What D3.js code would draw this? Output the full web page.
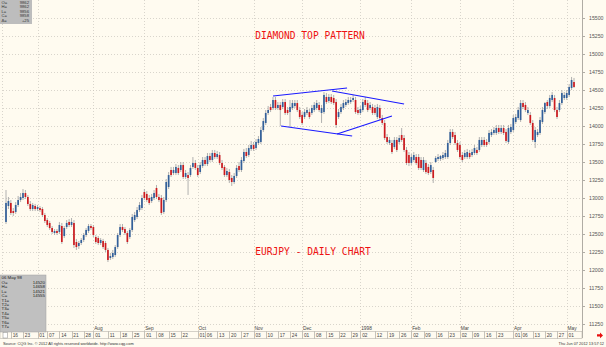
<!DOCTYPE html>
<html><head><meta charset="utf-8">
<script src="https://cdn.jsdelivr.net/npm/d3@7"></script>
<style>body{margin:0;background:#fffbf0}svg{display:block}</style>
</head><body><svg id="c" width="606" height="347"></svg>
<script>
// ---- DATA (EURJPY daily, Jun 12 1997 - May 06 1998) ----
const openP=[12667,12889,12931,12819,12806,12903,12972,13000,13069,13014,12917,12847,12889,12847,12861,12847,12764,12694,12653,12583,
12514,12542,12528,12611,12472,12597,12667,12625,12653,12389,12333,12375,12417,12486,12542,12611,12597,12458,12444,12375,
12403,12375,12278,12167,12181,12208,12319,12486,12597,12569,12514,12458,12556,12694,12736,12833,12861,13083,13056,13000,
12958,13000,13139,13014,13000,12806,12972,13153,13389,13347,13347,13417,13389,13458,13292,13319,13319,13431,13486,13417,
13361,13444,13528,13472,13583,13528,13625,13569,13597,13486,13431,13319,13361,13278,13222,13306,13444,13389,13514,13639,
13597,13681,13736,13694,13764,13778,13944,14042,14181,14264,14250,14361,14250,14292,14264,14333,14222,14194,14250,14278,
14319,14222,14153,14125,14181,14194,14181,14222,14250,14292,14181,14194,14403,14347,14403,14389,14333,14125,14194,14250,
14292,14319,14333,14361,14361,14222,14181,14222,14361,14319,14250,14264,14250,14125,14250,14111,14042,13847,13764,13764,
13708,13806,13778,13875,13833,13667,13597,13486,13528,13569,13569,13528,13389,13486,13431,13361,13389,13500,13542,13542,
13556,13569,13569,13764,13917,13875,13764,13736,13597,13569,13569,13625,13597,13625,13667,13667,13736,13806,13778,13778,
13875,13903,13903,13972,13917,13972,13917,13778,13917,13944,14056,14111,14083,14319,14292,14181,14153,14042,13778,13875,
13903,14056,14194,14333,14278,14361,14389,14222,14222,14319,14389,14389,14431,14528,14611];
const highP=[13111,13014,12972,12861,12944,13028,13069,13125,13111,13042,12958,12931,12917,12903,12889,12875,12792,12722,12681,12611,
12569,12569,12667,12653,12611,12694,12708,12722,12694,12431,12403,12444,12514,12583,12639,12639,12625,12486,12472,12444,
12431,12403,12306,12236,12278,12347,12514,12639,12639,12597,12542,12583,12778,12806,12875,12944,13042,13125,13097,13042,
13056,13111,13181,13056,13042,13014,13264,13361,13431,13431,13472,13458,13500,13500,13389,13361,13458,13569,13528,13458,
13500,13569,13569,13625,13625,13667,13667,13653,13639,13528,13458,13417,13403,13319,13347,13458,13500,13569,13681,13694,
13736,13792,13778,13819,13861,13986,14111,14222,14278,14306,14403,14403,14333,14333,14375,14375,14264,14361,14361,14361,
14361,14264,14194,14236,14264,14236,14292,14333,14361,14333,14292,14472,14458,14444,14444,14431,14375,14236,14306,14361,
14375,14403,14403,14431,14403,14264,14278,14375,14403,14361,14333,14306,14292,14306,14292,14153,14083,13889,13847,13806,
13847,13847,13875,13972,13875,13708,13639,13611,13639,13611,13611,13569,13569,13528,13472,13500,13431,13583,13611,13597,
13639,13667,13806,13958,13958,13917,13806,13778,13639,13667,13681,13667,13681,13736,13708,13847,13847,13847,13819,13944,
13958,13986,14014,14014,14014,14014,13958,14014,14028,14153,14167,14264,14361,14361,14333,14264,14194,14083,13986,13958,
14125,14264,14333,14361,14431,14472,14431,14264,14361,14500,14472,14500,14583,14681,14667];
const lowP=[12639,12847,12764,12750,12778,12875,12944,12972,12986,12889,12819,12819,12819,12819,12806,12736,12653,12597,12556,12500,
12486,12486,12500,12361,12444,12569,12597,12597,12306,12278,12292,12347,12389,12458,12514,12556,12458,12361,12347,12347,
12292,12250,12111,12139,12153,12181,12292,12458,12528,12486,12361,12431,12528,12667,12708,12806,12833,12972,12944,12903,
12931,12972,12986,12944,12764,12778,12944,13125,13292,13319,13319,13319,13361,13264,13264,13042,13292,13403,13389,13292,
13333,13417,13444,13444,13500,13500,13542,13542,13458,13389,13292,13292,13208,13167,13194,13278,13361,13361,13486,13556,
13569,13653,13653,13667,13736,13750,13917,14014,14153,14194,14222,14222,14222,14000,14236,14153,14153,13986,14222,14250,
14194,14097,14014,14097,14153,14097,14153,14194,14222,14194,14042,14167,14306,14319,14306,14292,13972,14097,14167,14222,
14264,14292,14306,14333,14167,14153,14153,14194,14264,14194,14222,14153,14153,14097,14083,14014,13806,13750,13736,13611,
13681,13639,13750,13778,13639,13458,13444,13458,13500,13458,13389,13389,13361,13333,13319,13333,13208,13486,13514,13514,
13528,13542,13542,13736,13819,13736,13639,13542,13500,13542,13542,13542,13569,13597,13597,13639,13708,13708,13708,13750,
13847,13875,13875,13889,13889,13875,13764,13750,13889,13917,14028,14083,14056,14236,14194,14153,14014,13778,13694,13847,
13875,14028,14167,14236,14250,14333,14194,14097,14194,14292,14361,14361,14403,14500,14528];
const closeP=[12931,12958,12792,12792,12903,12972,13014,13069,13014,12917,12847,12903,12847,12875,12833,12764,12681,12625,12583,12528,
12542,12514,12625,12389,12583,12653,12625,12667,12347,12319,12375,12417,12486,12556,12611,12583,12486,12389,12375,12417,
12319,12278,12139,12194,12236,12319,12486,12597,12556,12514,12389,12556,12736,12764,12833,12903,13000,13000,12972,12931,
13014,13069,13014,12972,12792,12972,13222,13319,13319,13389,13431,13347,13458,13292,13347,13278,13417,13486,13417,13319,
13458,13528,13472,13583,13528,13625,13569,13611,13486,13417,13319,13375,13250,13222,13306,13417,13389,13528,13639,13583,
13694,13736,13681,13778,13819,13944,14069,14181,14222,14222,14361,14250,14292,14222,14333,14181,14181,14264,14319,14319,
14222,14125,14042,14194,14222,14125,14250,14292,14319,14222,14250,14431,14333,14403,14333,14319,14014,14194,14264,14319,
14333,14361,14361,14389,14194,14181,14236,14333,14292,14222,14292,14181,14181,14264,14111,14042,13833,13778,13806,13639,
13806,13667,13833,13806,13667,13486,13486,13569,13597,13486,13417,13417,13528,13361,13347,13458,13278,13556,13569,13583,
13597,13625,13764,13917,13847,13764,13667,13569,13528,13625,13639,13569,13639,13694,13625,13806,13806,13736,13736,13903,
13917,13944,13972,13917,13972,13903,13792,13972,13986,14111,14125,14222,14319,14264,14222,14222,14042,13806,13944,13917,
14083,14222,14319,14278,14389,14431,14222,14125,14319,14458,14431,14458,14542,14639,14542];
const yTickValues=[11250,11500,11750,12000,12250,12500,12750,13000,13250,13500,13750,14000,14250,14500,14750,15000,15250,15500];
const dayTickDates=["1997-06-16","1997-06-23","1997-07-01","1997-07-07","1997-07-14","1997-07-21","1997-07-28","1997-08-01","1997-08-11","1997-08-18","1997-08-25",
"1997-09-01","1997-09-08","1997-09-15","1997-09-22","1997-10-01","1997-10-06","1997-10-13","1997-10-20","1997-10-27","1997-11-03","1997-11-10","1997-11-17","1997-11-24",
"1997-12-01","1997-12-08","1997-12-15","1997-12-22","1997-12-29","1998-01-02","1998-01-12","1998-01-19","1998-01-26","1998-02-02","1998-02-09","1998-02-16","1998-02-23",
"1998-03-02","1998-03-09","1998-03-16","1998-03-23","1998-04-01","1998-04-06","1998-04-13","1998-04-20","1998-04-27","1998-05-01"];
const monthTickDates=["1997-07-01","1997-08-01","1997-09-01","1997-10-01","1997-11-03","1997-12-01","1998-01-02","1998-02-02","1998-03-02","1998-04-01","1998-05-01"];
const monthTickLabels=["Jul","Aug","Sep","Oct","Nov","Dec","1998","Feb","Mar","Apr","May"];
// diamond trend lines: [bar index, price]
const diamondLines=[[[110.0,14417],[140.5,14528]],[[134.3,14486],[164.0,14306]],[[113.3,14000],[142.6,13861]],[[136.4,13889],[159.0,14139]]];
const title1="DIAMOND TOP PATTERN", title2="EURJPY - DAILY CHART";
const infoTopLabels=["O=","H=","L=","C=","\u0394="], infoTopValues=["9862","9862","9856","9858","+25"];
const infoLabels=["O=","H=","L=","C=","T1=","T2=","T3=","T4=","T5=","T6=","T7="], infoValues=["14520","14658","14521","14555","","","","","","",""];
const infoDate="06 May 98";

// ---- CHART ----
const svg=d3.select("#c");
const W=606,H=347, plotL=3, plotR=582, plotB=331;
const parse=d3.timeParse("%Y-%m-%d");
const days=d3.timeDay.range(new Date(1997,5,12),new Date(1998,4,7)).filter(d=>d.getDay()%6!==0);
const N=days.length;
const idxOf=s=>{const t=+parse(s);return days.findIndex(d=>+d===t);};
const x=d3.scaleLinear().domain([0,N-1]).range([6,574]);
const y=d3.scaleLinear().domain([11250,15500]).range([324,18]);
const font="Arial, 'Liberation Sans', sans-serif";

svg.append("rect").attr("width",W).attr("height",H).attr("fill","#fffbf0");

// grid
const g=svg.append("g").attr("stroke","#c8c4bc").attr("stroke-width",0.7).attr("stroke-dasharray","1,2");
g.selectAll("line.h").data(yTickValues).join("line").attr("x1",plotL).attr("x2",plotR).attr("y1",d=>Math.round(y(d))+0.5).attr("y2",d=>Math.round(y(d))+0.5);
g.selectAll("line.v").data(monthTickDates).join("line").attr("x1",d=>Math.round(x(idxOf(d)))+0.5).attr("x2",d=>Math.round(x(idxOf(d)))+0.5).attr("y1",0).attr("y2",plotB);
g.append("line").attr("x1",2.5).attr("x2",2.5).attr("y1",0).attr("y2",plotB);

// candles
const idx=d3.range(N);
const cg=svg.append("g");
cg.selectAll("line").data(idx).join("line")
 .attr("x1",i=>x(i)).attr("x2",i=>x(i)).attr("y1",i=>y(highP[i])).attr("y2",i=>y(lowP[i]))
 .attr("stroke","#a8a8a8").attr("stroke-width",0.9);
cg.selectAll("rect").data(idx).join("rect")
 .attr("x",i=>x(i)-0.85).attr("width",1.7)
 .attr("y",i=>y(Math.max(openP[i],closeP[i])))
 .attr("height",i=>Math.max(0.8,Math.abs(y(openP[i])-y(closeP[i]))))
 .attr("fill",i=>closeP[i]>=openP[i]?"#33609a":"#cc1a1f");

// diamond lines
svg.append("g").selectAll("line").data(diamondLines).join("line")
 .attr("x1",d=>x(d[0][0])).attr("y1",d=>y(d[0][1])).attr("x2",d=>x(d[1][0])).attr("y2",d=>y(d[1][1]))
 .attr("stroke","#1a1aff").attr("stroke-width",1.2);

// titles
svg.append("text").attr("x",310).attr("y",38.5).attr("text-anchor","middle").attr("fill","#ee1111")
 .attr("font-family","'DejaVu Sans Mono', monospace").attr("font-size",9.6).text(title1);
svg.append("text").attr("x",313).attr("y",255).attr("text-anchor","middle").attr("fill","#ee1111")
 .attr("font-family","'DejaVu Sans Mono', monospace").attr("font-size",9.6).text(title2);

// right axis
svg.append("line").attr("x1",plotR+0.5).attr("x2",plotR+0.5).attr("y1",0).attr("y2",338).attr("stroke","#b0aca4").attr("stroke-width",1);
const ya=svg.append("g");
ya.selectAll("line").data(yTickValues).join("line").attr("x1",plotR+1).attr("x2",plotR+3).attr("y1",d=>Math.round(y(d))+0.5).attr("y2",d=>Math.round(y(d))+0.5).attr("stroke","#b0aca4");
ya.selectAll("text").data(yTickValues).join("text").attr("x",589).attr("y",d=>y(d)+1.8).attr("font-family",font).attr("font-size",5.2).attr("fill","#555").text(d=>d);

// bottom date axis
const rowT=331.5,rowB=338.5;
svg.append("rect").attr("x",0).attr("y",rowT).attr("width",plotR).attr("height",rowB-rowT).attr("fill","#fffbf0").attr("stroke","#b8b4ac").attr("stroke-width",0.6);
const da=svg.append("g");
da.selectAll("line").data(dayTickDates).join("line").attr("x1",d=>Math.round(x(idxOf(d)))+0.5).attr("x2",d=>Math.round(x(idxOf(d)))+0.5).attr("y1",rowT).attr("y2",rowB).attr("stroke","#a09c94").attr("stroke-width",0.6);
da.selectAll("text").data(dayTickDates).join("text").attr("x",d=>x(idxOf(d))+1.8).attr("y",337.3).attr("font-family",font).attr("font-size",4.8).attr("fill","#444").text(d=>d.slice(8,10));
svg.append("g").selectAll("text").data(monthTickDates).join("text").attr("x",d=>x(idxOf(d))+0.8).attr("y",330.2).attr("font-family",font).attr("font-size",4.8).attr("fill","#444").text((d,i)=>monthTickLabels[i]);

// info boxes
const ib=svg.append("g");
ib.append("rect").attr("x",0).attr("y",275).attr("width",46).attr("height",57).attr("fill","#c0c0c0").attr("stroke","#a0a0a0").attr("stroke-width",0.5);
ib.append("text").attr("x",1.5).attr("y",279).attr("font-family",font).attr("font-size",4.4).attr("fill","#222").text(infoDate);
ib.selectAll("text.l").data(infoLabels).join("text").attr("x",1.5).attr("y",(d,i)=>284+i*4.4).attr("font-family",font).attr("font-size",4.4).attr("fill","#222").text(d=>d);
ib.selectAll("text.v").data(infoValues).join("text").attr("x",45).attr("text-anchor","end").attr("y",(d,i)=>284+i*4.4).attr("font-family",font).attr("font-size",4.4).attr("fill","#222").text(d=>d);
ib.append("rect").attr("x",3).attr("y",332.5).attr("width",4.5).attr("height",5.5).attr("fill","#fff").attr("stroke","#888").attr("stroke-width",0.5);
const it=svg.append("g");
it.append("rect").attr("x",0).attr("y",0).attr("width",32).attr("height",24).attr("fill","#bdbdbd");
it.selectAll("text.l").data(infoTopLabels).join("text").attr("x",1.5).attr("y",(d,i)=>4+i*4.4).attr("font-family",font).attr("font-size",4.2).attr("fill","#333").text(d=>d);
it.selectAll("text.v").data(infoTopValues).join("text").attr("x",29).attr("text-anchor","end").attr("y",(d,i)=>4+i*4.4).attr("font-family",font).attr("font-size",4.2).attr("fill","#333").text(d=>d);

// footer
svg.append("text").attr("x",3).attr("y",344.6).attr("font-family",font).attr("font-size",3.9).attr("fill","#333")
 .text("Source: CQG Inc. \u00a9 2012 All rights reserved worldwide. http://www.cqg.com");
svg.append("text").attr("x",604).attr("y",344.6).attr("text-anchor","end").attr("font-family",font).attr("font-size",3.9).attr("fill","#333")
 .text("Thu Jun 07 2012 13:57:12");
svg.append("path").attr("d","M597,334.2 L600,334.2 L600,332.6 L603,335.4 L600,338.2 L600,336.6 L597,336.6 Z").attr("fill","#e81010");
</script></body></html>
